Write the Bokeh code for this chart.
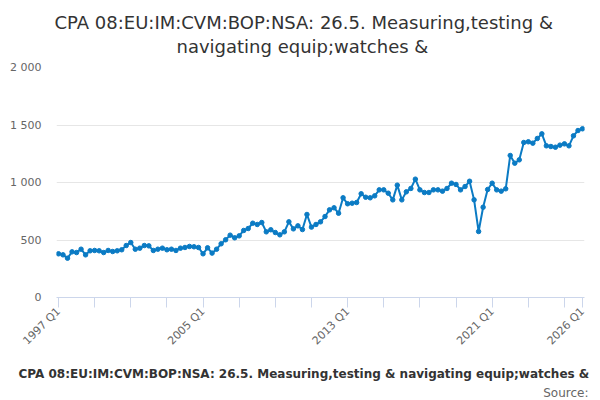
import math

from bokeh.plotting import figure
from bokeh.models import Range1d, FixedTicker, Title
from bokeh.embed import file_html
from bokeh.resources import INLINE

title_lines = ["CPA 08:EU:IM:CVM:BOP:NSA: 26.5. Measuring,testing &",
	"navigating equip;watches &"]
series_name = "CPA 08:EU:IM:CVM:BOP:NSA: 26.5. Measuring,testing & navigating equip;watches &"

first_year = 1997
last_year = 2026

# quarterly values, 1997 Q1 .. 2026 Q1
values = [
	380, 371, 342, 397, 391, 420, 371, 406, 409, 406, 391, 409,
	400, 406, 415, 452, 478, 420, 429, 452, 449, 409, 420, 429,
	415, 420, 409, 429, 435, 444, 441, 435, 380, 432, 386, 420,
	467, 502, 542, 519, 536, 583, 600, 646, 635, 652, 571, 589,
	565, 545, 571, 658, 597, 623, 591, 722, 612, 635, 658, 704,
	762, 780, 733, 867, 815, 820, 826, 902, 872, 867, 884, 936,
	936, 907, 849, 977, 849, 919, 948, 1029, 936, 913, 913, 936,
	936, 925, 948, 994, 983, 936, 965, 1011, 849, 574, 785, 939,
	994, 936, 925, 945, 1235, 1168, 1197, 1348, 1354, 1342, 1383, 1423,
	1319, 1313, 1307, 1325, 1336, 1319, 1406, 1452, 1467,
]

quarters = []
for year in range(first_year, last_year + 1):
	for q in range(1, 5):
		quarters.append("%d Q%d" % (year, q))
quarters = quarters[:len(values)]

x_ticks = list(range(0, len(values) - 1, 8)) + [len(values) - 1]
x_tick_labels = ["1997 Q1", "", "", "", "2005 Q1", "", "", "", "2013 Q1", "", "", "", "2021 Q1", "", "", "2026 Q1"]

y_ticks = [0, 500, 1000, 1500, 2000]
y_tick_labels = ["0", "500", "1 000", "1 500", "2 000"]

FONT = "DejaVu Sans"
BLUE = "#0b7bc4"

xs = list(range(len(values)))

p = figure(width=600, height=400, output_backend="svg", toolbar_location=None,
	x_range=Range1d(-0.44, 116.44), y_range=Range1d(0, 2000))

p.min_border_left = 56
p.min_border_right = 16
p.min_border_top = 67
p.min_border_bottom = 103
p.outline_line_color = None
p.background_fill_color = "white"

p.line(xs, values, line_color=BLUE, line_width=2)
p.scatter(xs, values, size=4.5, fill_color=BLUE, line_color=BLUE)

p.xgrid.grid_line_color = None
p.ygrid.grid_line_color = "#e6e6e6"
p.ygrid.ticker = FixedTicker(ticks=y_ticks)

p.xaxis.ticker = FixedTicker(ticks=x_ticks)
p.xaxis.major_label_overrides = dict(zip(x_ticks, x_tick_labels))
p.xaxis.major_label_orientation = math.pi / 4
p.xaxis.axis_line_color = "#ccd6eb"
p.xaxis.major_tick_line_color = "#ccd6eb"
p.xaxis.major_tick_out = 10
p.xaxis.major_tick_in = 0
p.xaxis.minor_tick_out = 0
p.xaxis.minor_tick_in = 0
p.xaxis.major_label_standoff = 2
p.xaxis.major_label_text_font = FONT
p.xaxis.major_label_text_font_size = "11px"
p.xaxis.major_label_text_color = "#666666"

p.yaxis.ticker = FixedTicker(ticks=y_ticks)
p.yaxis.major_label_overrides = dict(zip(y_ticks, y_tick_labels))
p.yaxis.axis_line_color = None
p.yaxis.major_tick_line_color = None
p.yaxis.minor_tick_line_color = None
p.yaxis.major_tick_out = 0
p.yaxis.major_label_standoff = 15
p.yaxis.major_label_text_font = FONT
p.yaxis.major_label_text_font_size = "11px"
p.yaxis.major_label_text_color = "#666666"

# title: two lines, the inner one added first; left aligned with offsets
# so that both lines sit centred on the page
p.add_layout(Title(text=title_lines[1], align="left", standoff=21, offset=120,
	text_font=FONT, text_font_size="18px", text_font_style="normal", text_color="#333333"), "above")
p.add_layout(Title(text=title_lines[0], align="left", standoff=-19, offset=-2,
	text_font=FONT, text_font_size="18px", text_font_style="normal", text_color="#333333"), "above")

# legend text and source line below the axis
p.add_layout(Title(text=series_name, align="left", offset=-38, standoff=19,
	text_font=FONT, text_font_size="12px", text_font_style="bold", text_color="#333333"), "below")
p.add_layout(Title(text="Source:", align="right", offset=-4, standoff=-18,
	text_font=FONT, text_font_size="12px", text_font_style="normal", text_color="#666666"), "below")

open("out.html", "w").write(file_html(p, INLINE))
